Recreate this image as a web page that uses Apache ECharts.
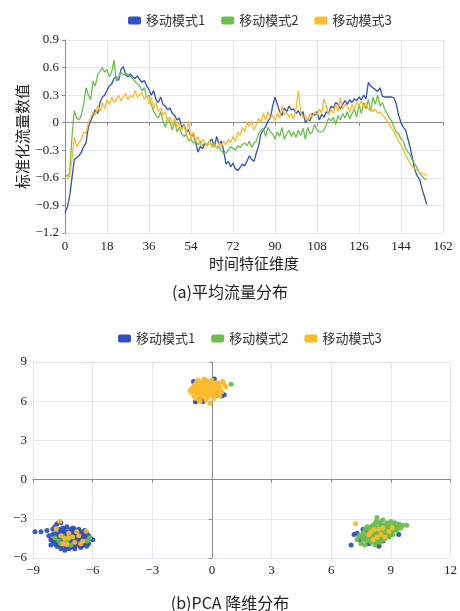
<!DOCTYPE html>
<html><head><meta charset="utf-8">
<script src="https://cdn.jsdelivr.net/npm/echarts@6/dist/echarts.min.js"></script>
<style>html,body{margin:0;padding:0;background:#fff;}#c{width:460px;height:611px;}</style>
</head><body><div id="c"></div>
<script>
// ---- data ----
const seriesNames = ['移动模式1', '移动模式2', '移动模式3'];
const seriesColors = ['#2F50BF', '#6DBE4D', '#FBBB2C'];
const flowXTicks = [0, 18, 36, 54, 72, 90, 108, 126, 144, 162];
const flowYTicks = [-1.2, -0.9, -0.6, -0.3, 0, 0.3, 0.6, 0.9];
const pcaXTicks = [-9, -6, -3, 0, 3, 6, 9, 12];
const pcaYTicks = [-6, -3, 0, 3, 6, 9];

const mode1Flow = [
-0.98,-0.92,-0.8,-0.6,-0.4,-0.38,-0.36,-0.32,-0.26,-0.22,
-0.05,0.02,0.08,0.14,0.1,0.22,0.28,0.3,0.35,0.4,
0.42,0.48,0.5,0.46,0.58,0.61,0.52,0.5,0.53,0.5,
0.48,0.51,0.47,0.44,0.46,0.4,0.36,0.3,0.35,0.25,
0.22,0.28,0.2,0.18,0.14,0.16,0.1,0.08,0.03,0.05,
-0.05,-0.02,-0.1,-0.08,-0.15,-0.12,-0.22,-0.32,-0.26,-0.28,
-0.22,-0.25,-0.2,-0.18,-0.26,-0.15,-0.24,-0.2,-0.3,-0.45,
-0.42,-0.48,-0.44,-0.5,-0.52,-0.49,-0.45,-0.47,-0.42,-0.36,
-0.4,-0.42,-0.33,-0.25,-0.12,-0.08,-0.04,0.02,0.05,0.18,
0.28,0.2,0.12,0.08,0.16,0.12,0.18,0.14,0.15,0.1,
0.13,0.08,0.12,0.0,0.04,0.02,0.1,0.08,0.12,0.03,
0.09,0.06,0.12,0.1,0.18,0.16,0.22,0.2,0.15,0.2,
0.24,0.2,0.25,0.22,0.26,0.24,0.28,0.25,0.3,0.26,
0.44,0.4,0.38,0.36,0.34,0.38,0.29,0.28,0.28,0.28,
0.28,0.27,0.2,0.08,0.0,-0.05,-0.08,-0.18,-0.28,-0.4,
-0.52,-0.58,-0.62,-0.72,-0.8,-0.89];

const mode2Flow = [
-0.57,-0.58,-0.55,-0.15,0.13,0.05,0.03,0.08,0.2,0.38,
0.3,0.25,0.45,0.4,0.52,0.56,0.6,0.55,0.58,0.5,
0.55,0.68,0.45,0.5,0.55,0.52,0.53,0.53,0.5,0.48,
0.45,0.42,0.4,0.35,0.38,0.28,0.3,0.2,0.12,0.08,
0.05,0.12,0.02,-0.05,0.05,0.0,-0.08,0.02,-0.1,-0.05,
-0.12,-0.15,-0.12,-0.2,-0.18,-0.22,-0.2,-0.24,-0.2,-0.25,
-0.22,-0.24,-0.2,-0.25,-0.22,-0.28,-0.26,-0.3,-0.34,-0.33,
-0.3,-0.26,-0.28,-0.3,-0.25,-0.27,-0.24,-0.22,-0.25,-0.2,
-0.27,-0.22,-0.2,-0.12,-0.08,-0.06,-0.15,-0.05,-0.1,-0.12,
-0.18,-0.1,-0.15,-0.05,-0.18,-0.12,-0.08,-0.15,-0.1,-0.16,
-0.08,-0.14,-0.06,-0.18,-0.05,-0.12,-0.1,-0.02,-0.08,-0.1,
-0.1,-0.08,-0.02,0.05,0.02,0.06,-0.02,0.08,0.03,0.1,
0.05,0.12,0.04,0.1,0.15,0.06,0.2,0.1,0.22,0.15,
0.25,0.12,0.28,0.2,0.3,0.18,0.22,0.15,0.1,0.05,
0.02,-0.05,-0.1,-0.12,-0.18,-0.2,-0.28,-0.32,-0.35,-0.42,
-0.45,-0.5,-0.55,-0.58,-0.61,-0.62];

const mode3Flow = [
-0.6,-0.61,-0.58,-0.4,-0.16,-0.26,-0.22,-0.18,-0.1,-0.12,
0.0,0.05,0.12,0.08,0.18,0.12,0.22,0.15,0.25,0.2,
0.28,0.22,0.25,0.3,0.24,0.28,0.32,0.25,0.3,0.27,
0.35,0.28,0.3,0.33,0.25,0.3,0.2,0.28,0.15,0.22,
0.12,0.16,0.08,0.12,0.02,0.06,-0.02,0.05,-0.05,0.0,
-0.08,-0.03,-0.12,0.02,-0.18,-0.1,-0.2,-0.15,-0.25,-0.18,
-0.22,-0.26,-0.2,-0.27,-0.24,-0.28,-0.22,-0.26,-0.2,-0.24,
-0.18,-0.22,-0.15,-0.2,-0.1,-0.14,-0.05,-0.1,0.0,-0.04,
0.02,-0.08,-0.02,0.05,0.0,0.1,0.03,0.12,0.05,0.08,
0.02,0.1,0.05,0.18,0.08,0.12,0.06,0.1,0.04,0.15,
0.35,0.12,0.05,0.08,0.02,0.1,0.06,0.12,0.08,0.15,
0.1,0.26,0.18,0.08,0.15,0.1,0.2,0.12,0.27,0.15,
0.2,0.18,0.12,0.2,0.15,0.22,0.18,0.24,0.16,0.22,
0.14,0.18,0.12,0.15,0.1,0.12,0.08,0.06,0.02,-0.02,
-0.06,-0.1,-0.15,-0.2,-0.24,-0.3,-0.35,-0.4,-0.45,-0.48,
-0.5,-0.52,-0.54,-0.55,-0.56,-0.57];

const mode1Pca = [
[-8.9,-4.0],[-8.6,-4.0],[-8.3,-3.9],[-8.1,-4.6],[-8.0,-4.2],[-7.9,-3.6],[-7.9,-4.9],[-7.8,-3.4],[-7.8,-4.4],[-7.8,-5.1],
[-7.7,-3.8],[-7.7,-4.7],[-7.6,-3.3],[-7.6,-4.1],[-7.6,-5.3],[-7.5,-3.7],[-7.5,-4.5],[-7.5,-5.0],[-7.4,-3.9],[-7.4,-4.3],
[-7.4,-4.8],[-7.4,-5.4],[-7.3,-3.6],[-7.3,-4.6],[-7.3,-5.1],[-7.2,-4.0],[-7.2,-4.4],[-7.2,-4.9],[-7.1,-3.8],[-7.1,-4.7],
[-7.1,-5.2],[-7.0,-3.7],[-7.0,-4.2],[-7.0,-4.5],[-7.0,-5.0],[-6.9,-3.9],[-6.9,-4.4],[-6.9,-4.8],[-6.9,-5.3],[-6.8,-4.1],
[-6.8,-4.6],[-6.8,-5.0],[-6.7,-3.8],[-6.7,-4.3],[-6.7,-4.9],[-6.6,-4.0],[-6.6,-4.5],[-6.6,-5.2],[-6.5,-4.2],[-6.5,-4.7],
[-6.5,-5.0],[-6.4,-3.9],[-6.4,-4.4],[-6.4,-4.8],[-6.3,-4.1],[-6.3,-4.6],[-6.2,-4.3],[-6.2,-4.9],[-6.1,-4.5],[-6.0,-4.6],
[-7.9,-4.3],[-7.7,-4.2],[-7.6,-4.8],[-7.5,-4.1],[-7.3,-4.2],[-7.2,-4.7],[-7.1,-4.3],[-7.0,-4.8],[-6.9,-4.1],[-6.8,-4.4],
[-6.7,-4.6],[-6.6,-4.8],[-7.8,-4.8],[-7.4,-4.0],[-7.3,-4.9],[-7.2,-5.3],[-6.9,-5.1],[-7.6,-4.4],[-8.2,-4.3],[-8.0,-4.7],
[-8.1,-5.0],[-6.5,-4.4],[-6.3,-5.1],[-7.0,-4.0],[-6.6,-4.2],[-7.7,-5.0],[-7.1,-4.1],[-6.8,-4.8],[-7.5,-4.7],[-8.0,-3.8],
[-7.65,-4.55],[-7.45,-4.25],[-7.25,-4.55],[-7.05,-4.65],[-6.85,-4.25],[-6.75,-4.75],[-7.35,-5.25],[-6.95,-3.75],[-7.55,-3.95],[-6.45,-4.55],
[-6.25,-4.45],[-7.85,-4.15],[-7.15,-4.85],[-6.55,-5.1],[-6.95,-4.55],
[-0.93,7.5],[-0.83,5.95],[-0.45,5.98],[0.62,6.5],[0.12,7.7],[-0.8,7.2],[-1.0,6.8],[0.5,6.4],
[7.0,-5.0],[7.15,-4.2],[7.3,-4.1],[7.4,-4.5],[7.5,-4.7],[7.65,-4.45],[7.8,-3.9],[8.07,-4.5],[8.24,-4.85],[8.4,-5.1],
[9.3,-3.55],[9.4,-4.2],[7.6,-3.8],[8.6,-4.7],[7.9,-4.9]];

const mode2Pca = [
[7.3,-4.6],[7.4,-4.3],[7.5,-4.9],[7.6,-4.1],[7.6,-4.6],[7.7,-3.8],[7.7,-4.4],[7.8,-4.7],[7.8,-4.2],[7.9,-3.9],
[7.9,-4.5],[8.0,-3.6],[8.0,-4.1],[8.0,-4.8],[8.1,-3.8],[8.1,-4.3],[8.1,-4.6],[8.2,-3.4],[8.2,-4.0],[8.2,-4.4],
[8.2,-5.0],[8.3,-2.9],[8.3,-3.7],[8.3,-4.2],[8.3,-4.7],[8.4,-3.3],[8.4,-3.9],[8.4,-4.5],[8.5,-3.5],[8.5,-4.1],
[8.5,-4.8],[8.6,-3.1],[8.6,-3.8],[8.6,-4.3],[8.7,-3.6],[8.7,-4.0],[8.7,-4.5],[8.8,-3.3],[8.8,-3.9],[8.8,-4.3],
[8.9,-3.5],[8.9,-4.1],[9.0,-3.2],[9.0,-3.7],[9.0,-4.2],[9.1,-3.5],[9.1,-3.9],[9.2,-3.3],[9.2,-3.8],[9.3,-3.6],
[9.4,-3.4],[9.5,-3.7],[9.6,-3.5],[9.8,-3.5],[8.0,-4.3],[8.1,-4.0],[8.3,-4.0],[8.4,-4.2],[8.5,-3.8],[8.6,-4.0],
[8.7,-3.8],[8.8,-4.1],[8.9,-3.8],[7.9,-4.2],[8.2,-4.7],[8.4,-4.8],[8.6,-4.6],[7.5,-4.4],[7.7,-5.0],[8.9,-4.4],
[9.1,-4.2],[9.3,-3.9],[8.5,-3.2],[8.1,-3.5],[7.8,-3.6],[8.35,-4.35],[8.65,-4.15],[8.45,-3.65],[8.75,-3.7],[8.25,-3.2],
[8.15,-4.15],[8.35,-3.85],[8.55,-4.35],[8.75,-4.25],[8.95,-3.65],[9.05,-4.0],[8.45,-4.05],[8.25,-4.55],[7.95,-4.0],[8.65,-3.5],
[9.25,-3.45],[8.85,-3.55],
[-7.9,-4.45],[-7.5,-4.33],[-6.15,-4.45],[-7.7,-4.7],[-7.4,-4.6],[-7.2,-4.5],[-7.3,-4.8],[-6.3,-4.7],[-7.1,-5.0],[-7.6,-4.9],
[0.96,7.3],[0.24,6.43],[-0.6,6.2],[-0.2,6.6],[0.2,6.9]];

const mode3Pca = [
[-1.1,6.8],[-1.0,7.0],[-1.0,6.6],[-0.9,7.2],[-0.9,6.4],[-0.8,6.9],[-0.8,7.4],[-0.8,6.2],[-0.7,6.7],[-0.7,7.1],
[-0.7,7.6],[-0.6,6.5],[-0.6,7.0],[-0.6,7.3],[-0.5,6.8],[-0.5,7.5],[-0.5,6.3],[-0.4,7.0],[-0.4,7.7],[-0.4,6.6],
[-0.3,6.9],[-0.3,7.3],[-0.3,6.1],[-0.2,7.1],[-0.2,6.7],[-0.2,7.5],[-0.1,6.8],[-0.1,7.2],[-0.1,6.4],[0.0,7.0],
[0.0,7.6],[0.0,6.6],[0.1,6.9],[0.1,7.3],[0.2,7.0],[0.2,6.5],[0.3,7.2],[0.3,6.8],[0.4,7.0],[0.54,7.5],
[0.6,7.3],[0.7,7.1],[0.5,6.7],[-0.6,6.0],[-0.1,5.82],[-0.3,6.5],[-0.5,7.1],[-0.7,6.9],[-0.2,6.9],[-0.4,7.2],
[-0.1,7.0],[0.0,6.8],[-0.6,6.7],[-0.3,7.6],[-0.9,6.8],[0.2,7.4],[-0.2,6.3],[0.4,6.4],[-0.8,7.0],[0.1,6.2],
[-0.65,6.85],[-0.45,6.75],[-0.25,7.05],[-0.05,6.65],[0.15,7.15],[-0.55,7.25],[-0.35,6.45],[-0.15,7.35],[0.05,6.95],[-0.75,6.55],
[0.25,6.7],[-0.85,7.1],[0.35,7.4],[-0.45,7.45],[-0.15,6.55],
[-7.66,-3.18],[-7.83,-3.74],[-7.24,-4.45],[-6.32,-3.95],[-7.3,-4.96],[-6.9,-4.8],[-7.6,-4.3],[-7.4,-4.5],[-7.0,-4.4],[-6.8,-4.0],
[-6.6,-4.9],[-6.5,-4.7],[-7.5,-4.9],[-6.7,-4.3],[-7.2,-4.1],
[7.23,-3.36],[7.9,-4.2],[8.15,-3.82],[9.07,-3.69],[8.0,-4.0],[8.3,-4.4],[8.5,-4.2],[8.6,-3.7],[8.7,-4.4],[8.9,-4.0],
[8.1,-4.6],[8.4,-3.8]];

// ---- chart ----
const flowSets = [mode1Flow, mode2Flow, mode3Flow];
const pcaSets = [mode1Pca, mode2Pca, mode3Pca];
const numFont = 'Liberation Serif';
const cjkFont = '"Noto Sans CJK SC", sans-serif';
const minus = v => String(v).replace('-', '\u2212');
const gridLine = { show: true, lineStyle: { color: '#E3E7F0', width: 1 } };
const zeroLine = { show: true, onZero: true, lineStyle: { color: '#8C8C8C', width: 1 } };
const lbl = { color: '#222', fontFamily: numFont, fontSize: 13, formatter: minus };

const chart = echarts.init(document.getElementById('c'), null, { renderer: 'canvas' });
const series = [];
flowSets.forEach((arr, i) => {
  series.push({
    name: seriesNames[i], type: 'line', xAxisIndex: 0, yAxisIndex: 0,
    data: arr.map((v, k) => [k, v]), showSymbol: false, symbol: 'none',
    lineStyle: { width: 1.3, color: seriesColors[i] }, itemStyle: { color: seriesColors[i] },
    animation: false
  });
});
pcaSets.forEach((arr, i) => {
  series.push({
    name: seriesNames[i], type: 'scatter', xAxisIndex: 2, yAxisIndex: 1,
    data: arr, symbolSize: 5,
    itemStyle: { color: seriesColors[i], opacity: 0.95 }, animation: false
  });
});

const legendBase = {
  data: seriesNames, icon: 'roundRect', itemWidth: 13, itemHeight: 8, itemGap: 16,
  textStyle: { fontSize: 13, color: '#333', fontFamily: cjkFont }
};

chart.setOption({
  animation: false,
  color: seriesColors,
  legend: [
    Object.assign({}, legendBase, { left: 123, top: 9 }),
    Object.assign({}, legendBase, { left: 113, top: 327 })
  ],
  grid: [
    { left: 65, right: 17, top: 40, height: 193 },
    { left: 33, right: 8, top: 362, height: 196 }
  ],
  xAxis: [
    { type: 'value', gridIndex: 0, min: flowXTicks[0], max: flowXTicks[flowXTicks.length - 1], interval: 18,
      axisLine: { show: false, onZero: false }, axisTick: { show: false },
      axisLabel: Object.assign({}, lbl, { margin: 7 }), splitLine: gridLine,
      name: '时间特征维度', nameLocation: 'middle', nameGap: 23,
      nameTextStyle: { fontSize: 15, color: '#222', fontFamily: cjkFont } },
    { type: 'value', gridIndex: 0, min: 0, max: 162, interval: 18, position: 'bottom',
      axisLine: zeroLine, axisTick: { show: true, length: 3, lineStyle: { color: '#8C8C8C' } },
      axisLabel: { show: false }, splitLine: { show: false } },
    { type: 'value', gridIndex: 1, min: pcaXTicks[0], max: pcaXTicks[pcaXTicks.length - 1], interval: 3,
      axisLine: { show: false, onZero: false }, axisTick: { show: false },
      axisLabel: Object.assign({}, lbl, { margin: 6 }), splitLine: gridLine },
    { type: 'value', gridIndex: 1, min: -9, max: 12, interval: 3, position: 'bottom',
      axisLine: zeroLine, axisTick: { show: true, length: 3, lineStyle: { color: '#8C8C8C' } },
      axisLabel: { show: false }, splitLine: { show: false } }
  ],
  yAxis: [
    { type: 'value', gridIndex: 0, min: flowYTicks[0], max: flowYTicks[flowYTicks.length - 1], interval: 0.3,
      axisLine: { show: true, onZero: false, lineStyle: { color: '#8C8C8C' } },
      axisTick: { show: true, length: 3, lineStyle: { color: '#8C8C8C' } },
      axisLabel: Object.assign({}, lbl, { margin: 6 }), splitLine: gridLine,
      name: '标准化流量数值', nameLocation: 'middle', nameGap: 35, nameMoveOverlap: false,
      nameTextStyle: { fontSize: 15, color: '#222', fontFamily: cjkFont } },
    { type: 'value', gridIndex: 1, min: pcaYTicks[0], max: pcaYTicks[pcaYTicks.length - 1], interval: 3,
      axisLine: { show: false, onZero: false }, axisTick: { show: false },
      axisLabel: Object.assign({}, lbl, { margin: 6 }), splitLine: gridLine },
    { type: 'value', gridIndex: 1, min: -6, max: 9, interval: 3, position: 'left',
      axisLine: zeroLine, axisTick: { show: true, length: 3, lineStyle: { color: '#8C8C8C' } },
      axisLabel: { show: false }, splitLine: { show: false } }
  ],
  graphic: [
    { type: 'text', left: 'center', top: 284, style: { text: '(a)平均流量分布', fontSize: 16, fill: '#222', fontFamily: cjkFont } },
    { type: 'text', left: 'center', top: 595, style: { text: '(b)PCA 降维分布', fontSize: 16, fill: '#222', fontFamily: cjkFont } }
  ],
  series: series
});
</script></body></html>
